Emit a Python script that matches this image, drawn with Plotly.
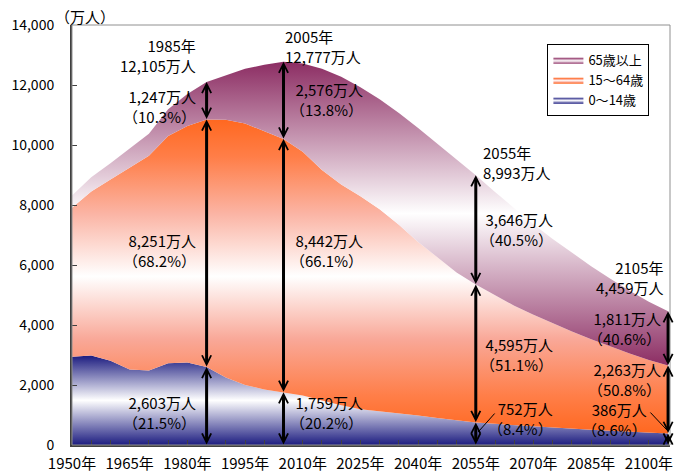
import numpy as np
import plotly.graph_objects as go

# Population of Japan by age group (10,000 persons), every 5 years
years = [1950, 1955, 1960, 1965, 1970, 1975, 1980, 1985, 1990, 1995, 2000, 2005,
         2010, 2015, 2020, 2025, 2030, 2035, 2040, 2045, 2050, 2055,
         2060, 2065, 2070, 2075, 2080, 2085, 2090, 2095, 2100, 2105]
age_0_14 = [2943, 2980, 2807, 2517, 2482, 2722, 2751, 2603, 2249, 2001, 1847, 1759,
            1648, 1484, 1324, 1195, 1115, 1047, 980, 904, 821, 752,
            705, 662, 618, 580, 542, 508, 474, 441, 412, 386]
age_15_64 = [4966, 5473, 6047, 6744, 7157, 7581, 7884, 8251, 8590, 8716, 8622, 8442,
             8128, 7681, 7363, 7096, 6740, 6292, 5787, 5353, 4930, 4595,
             4290, 3980, 3720, 3475, 3240, 3020, 2810, 2610, 2420, 2263]
age_65_over = [411, 475, 535, 624, 733, 887, 1065, 1247, 1489, 1826, 2204, 2576,
               2941, 3378, 3590, 3635, 3667, 3725, 3803, 3787, 3764, 3646,
               3435, 3238, 3022, 2815, 2618, 2432, 2256, 2089, 1939, 1811]

series_names = ["0～14歳", "15～64歳", "65歳以上"]
x_tick_years = [1950, 1965, 1980, 1995, 2010, 2025, 2040, 2055, 2070, 2085, 2100]
x_tick_text = ["1950年", "1965年", "1980年", "1995年", "2010年", "2025年",
               "2040年", "2055年", "2070年", "2085年", "2100年"]
y_tick_values = [0, 2000, 4000, 6000, 8000, 10000, 12000, 14000]

highlight_years = [1985, 2005, 2055, 2105]

# (year anchor, value anchor, xanchor, text)
labels = [
    (1982.8, 12967, "right", "1985年<br>12,105万人"),
    (1982.8, 11267, "right", "1,247万人<br>（10.3%）"),
    (1982.8, 6500, "right", "8,251万人<br>（68.2%）"),
    (1982.8, 1100, "right", "2,603万人<br>（21.5%）"),
    (2004.9, 13300, "left", "2005年<br>12,777万人"),
    (2026.2, 11533, "right", "2,576万人<br>（13.8%）"),
    (2026.2, 6500, "right", "8,442万人<br>（66.1%）"),
    (2026.2, 1100, "right", "1,759万人<br>（20.2%）"),
    (2056.3, 9433, "left", "2055年<br>8,993万人"),
    (2075.6, 7200, "right", "3,646万人<br>（40.5%）"),
    (2075.6, 3033, "right", "4,595万人<br>（51.1%）"),
    (2075.6, 880, "right", "752万人<br>（8.4%）"),
    (2104.2, 5567, "right", "2105年<br>4,459万人"),
    (2103.7, 3867, "right", "1,811万人<br>（40.6%）"),
    (2103.7, 2200, "right", "2,263万人<br>（50.8%）"),
    (2100.0, 850, "right", "386万人<br>（8.6%）"),
]

FONT = "Noto Sans CJK JP, Noto Sans, sans-serif"

young = np.array(age_0_14)
working_top = young + np.array(age_15_64)
total = working_top + np.array(age_65_over)

navy = "#1c1c80"
orange = "#ff6820"
purple = "#8c2d63"

fig = go.Figure()

fig.add_trace(go.Scatter(
    x=years, y=young, name=series_names[0], mode="lines",
    line=dict(width=0, color=navy), fill="tozeroy",
    fillgradient=dict(type="vertical", start=0, stop=float(young.max()),
                      colorscale=[[0, navy], [0.5, "#ffffff"], [1, navy]]),
))
fig.add_trace(go.Scatter(
    x=years, y=working_top, name=series_names[1], mode="lines",
    line=dict(width=0, color=orange), fill="tonexty",
    fillgradient=dict(type="vertical", start=float(young.min()), stop=float(working_top.max()),
                      colorscale=[[0, orange], [0.12, "#ff7e48"], [0.3, "#f9a898"],
                                  [0.5, "#ffffff"], [0.7, "#fbb4a4"], [0.88, "#ff7e48"],
                                  [1, orange]]),
))
fig.add_trace(go.Scatter(
    x=years, y=total, name=series_names[2], mode="lines",
    line=dict(width=0, color=purple), fill="tonexty",
    fillgradient=dict(type="vertical", start=float(working_top.min()), stop=float(total.max()),
                      colorscale=[[0, purple], [0.5, "#ffffff"], [1, purple]]),
))

annotations = []

# double-headed arrows for each age band in the highlighted years
for yr in highlight_years:
    i = years.index(yr)
    bounds = [0, int(young[i]), int(working_top[i]), int(total[i])]
    for lo, hi in zip(bounds[:-1], bounds[1:]):
        annotations.append(dict(
            x=yr, y=hi, ax=yr, ay=lo, xref="x", yref="y", axref="x", ayref="y",
            text="", font=dict(size=1), borderpad=0,
            showarrow=True, arrowside="end+start",
            arrowhead=5, startarrowhead=5, arrowsize=0.6, startarrowsize=0.6,
            arrowwidth=3, arrowcolor="black", standoff=0, startstandoff=0,
        ))

for xv, yv, anchor, txt in labels:
    annotations.append(dict(
        x=xv, y=yv, xref="x", yref="y", text=txt, showarrow=False,
        xanchor=anchor, yanchor="middle", align=anchor,
        font=dict(family=FONT, size=15, color="black"),
    ))

# leader lines for the small 0-14 bands
annotations.append(dict(x=2055.6, y=433, ax=17, ay=-19, xref="x", yref="y",
                        text="", font=dict(size=1), borderpad=0, showarrow=True,
                        arrowhead=0, arrowwidth=1, arrowcolor="black"))
annotations.append(dict(x=2104.7, y=500, ax=-17, ay=-18, xref="x", yref="y",
                        text="", font=dict(size=1), borderpad=0, showarrow=True,
                        arrowhead=0, arrowwidth=1, arrowcolor="black"))

annotations.append(dict(x=-0.032, y=1.02, xref="paper", yref="paper",
                        text="（万人）", showarrow=False, xanchor="left", yanchor="middle",
                        font=dict(family=FONT, size=15, color="black")))

fig.update_layout(
    width=676, height=473,
    margin=dict(l=72, r=6, t=25, b=28),
    plot_bgcolor="white", paper_bgcolor="white",
    font=dict(family=FONT, size=15, color="black"),
    annotations=annotations,
    shapes=[dict(type="rect", xref="paper", yref="paper", x0=0, y0=0, x1=1, y1=1,
                 line=dict(color="#909090", width=1), layer="above")],
    legend=dict(x=0.795, y=0.955, xanchor="left", yanchor="top",
                traceorder="reversed", bgcolor="white", bordercolor="black",
                borderwidth=1, font=dict(family=FONT, size=13, color="black"),
                itemwidth=30, tracegroupgap=0),
    xaxis=dict(range=[1950, 2105.5], tickmode="array", tickvals=x_tick_years,
               ticktext=x_tick_text, ticks="inside", ticklen=5, tickcolor="#404040",
               minor=dict(dtick=5, tick0=1950, ticks="inside", ticklen=5, tickcolor="#404040"),
               showline=True, linecolor="#404040", linewidth=2, showgrid=False,
               zeroline=False, ticklabelstandoff=4, automargin=False,
               tickfont=dict(family=FONT, size=15, color="black")),
    yaxis=dict(range=[0, 14000], tickmode="array", tickvals=y_tick_values,
               tickformat=",", ticks="inside", ticklen=5, tickcolor="#404040",
               showline=True, linecolor="#404040", linewidth=2, showgrid=False,
               zeroline=False, ticklabelstandoff=13, automargin=False,
               tickfont=dict(family=FONT, size=14, color="black")),
)

fig.write_html("out.html")
